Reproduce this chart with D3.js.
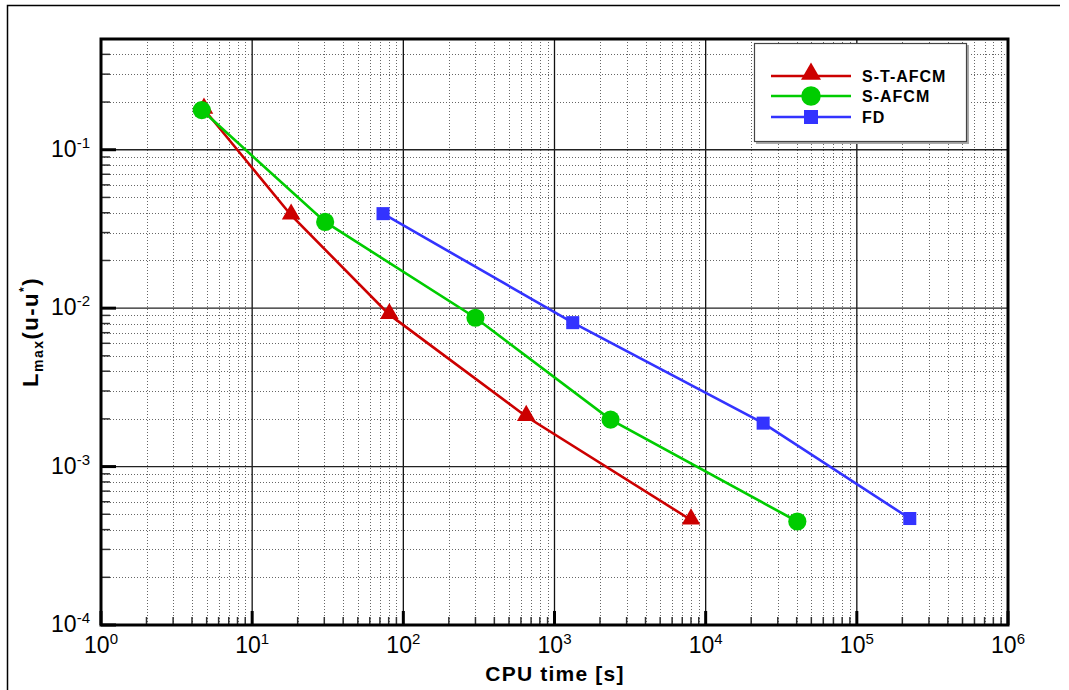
<!DOCTYPE html>
<html>
<head>
<meta charset="utf-8">
<script src="https://cdn.jsdelivr.net/npm/d3@7"></script>
<style>
  body { margin: 0; background: #fff; }
  svg { display: block; }
</style>
</head>
<body>
<svg id="chart" width="1069" height="690"></svg>
<script>
// series: CPU time [s] vs L_max error
const seriesNames = ['S-T-AFCM', 'S-AFCM', 'FD'];
const timeST = [4.8, 18.1, 80.8, 650, 8000];
const errST = [0.18, 0.0386, 0.0091, 0.00207, 0.00046];
const timeS = [4.64, 30.4, 300, 2350, 40400];
const errS = [0.178, 0.035, 0.0087, 0.00198, 0.00045];
const timeFD = [73.4, 1320, 24000, 224000];
const errFD = [0.0395, 0.0081, 0.00188, 0.00047];
const xDecades = [0, 1, 2, 3, 4, 5, 6];
const yDecades = [-4, -3, -2, -1];

const colors = ['#cc0000', '#00cc00', '#3333ff'];
const shapes = [d3.symbolTriangle, d3.symbolCircle, d3.symbolSquare];
const symSizes = [150, 260, 170];

const svg = d3.select('#chart');
const pLeft = 101, pRight = 1008, pTop = 39, pBottom = 625;

const x = d3.scaleLog().domain([1, 1e6]).range([pLeft, pRight]);
const y = d3.scaleLog().domain([1e-4, 0.5]).range([pBottom, pTop]);

// outer frame (only left and top edges visible)
svg.append('path')
  .attr('d', 'M7.5,690 V5.5 H1060')
  .attr('fill', 'none')
  .attr('stroke', '#000')
  .attr('stroke-width', 1.5);

const isMajor = v => Math.abs(Math.log10(v) - Math.round(Math.log10(v))) < 1e-9;

const xt = x.ticks();
const yt = y.ticks().filter(v => v <= 0.5);

const grid = svg.append('g');
// minor grid (dotted)
grid.selectAll('.vmin')
  .data(xt.filter(v => !isMajor(v)))
  .enter().append('line')
  .attr('x1', d => Math.round(x(d)) + 0.5).attr('x2', d => Math.round(x(d)) + 0.5)
  .attr('y1', pTop).attr('y2', pBottom)
  .attr('stroke', '#666').attr('stroke-width', 1).attr('stroke-dasharray', '1,2');
grid.selectAll('.hmin')
  .data(yt.filter(v => !isMajor(v)))
  .enter().append('line')
  .attr('y1', d => Math.round(y(d)) + 0.5).attr('y2', d => Math.round(y(d)) + 0.5)
  .attr('x1', pLeft).attr('x2', pRight)
  .attr('stroke', '#666').attr('stroke-width', 1).attr('stroke-dasharray', '1,2');
// major grid (solid)
grid.selectAll('.vmaj')
  .data(xDecades.slice(1, -1))
  .enter().append('line')
  .attr('x1', d => x(10 ** d)).attr('x2', d => x(10 ** d))
  .attr('y1', pTop).attr('y2', pBottom)
  .attr('stroke', '#111').attr('stroke-width', 1.3);
grid.selectAll('.hmaj')
  .data(yDecades.slice(1))
  .enter().append('line')
  .attr('y1', d => y(10 ** d)).attr('y2', d => y(10 ** d))
  .attr('x1', pLeft).attr('x2', pRight)
  .attr('stroke', '#222').attr('stroke-width', 1.3);

// inward ticks on bottom and left axes
const ticks = svg.append('g');
ticks.selectAll('.xt')
  .data(xt)
  .enter().append('line')
  .attr('x1', d => x(d)).attr('x2', d => x(d))
  .attr('y1', pBottom).attr('y2', d => pBottom - (isMajor(d) ? 14 : 8))
  .attr('stroke', d => isMajor(d) ? '#000' : '#333')
  .attr('stroke-width', d => isMajor(d) ? 3 : 1.5);
ticks.selectAll('.yt')
  .data(yt)
  .enter().append('line')
  .attr('y1', d => y(d)).attr('y2', d => y(d))
  .attr('x1', pLeft).attr('x2', d => pLeft + (isMajor(d) ? 15 : 9))
  .attr('stroke', d => isMajor(d) ? '#000' : '#333')
  .attr('stroke-width', d => isMajor(d) ? 3 : 1.5);

// series
const seriesX = [timeST, timeS, timeFD];
const seriesY = [errST, errS, errFD];
const line = d3.line().x(d => x(d[0])).y(d => y(d[1]));

seriesNames.forEach((name, i) => {
  const pts = d3.zip(seriesX[i], seriesY[i]);
  const g = svg.append('g');
  g.append('path')
    .datum(pts)
    .attr('d', line)
    .attr('fill', 'none')
    .attr('stroke', colors[i])
    .attr('stroke-width', 2.6);
  g.selectAll('path.m')
    .data(pts)
    .enter().append('path')
    .attr('class', 'm')
    .attr('transform', d => `translate(${x(d[0])},${y(d[1]) + (i === 0 ? -1 : 0)})`)
    .attr('d', d3.symbol().type(shapes[i]).size(symSizes[i]))
    .attr('fill', colors[i]);
});

// plot frame
svg.append('rect')
  .attr('x', pLeft).attr('y', pTop)
  .attr('width', pRight - pLeft).attr('height', pBottom - pTop)
  .attr('fill', 'none')
  .attr('stroke', '#000')
  .attr('stroke-width', 3);

// tick labels
const tickFont = '"Liberation Sans Narrow", "Arial Narrow", "Liberation Sans", Arial, sans-serif';
const xl = svg.append('g')
  .attr('font-family', tickFont).attr('font-size', 23).attr('fill', '#000');
xDecades.forEach(p => {
  const t = xl.append('text')
    .attr('x', x(10 ** p)).attr('y', 653)
    .attr('text-anchor', 'middle');
  t.append('tspan').text('10');
  t.append('tspan').attr('font-size', 15).attr('dy', -9).text(p);
});
const yl = svg.append('g')
  .attr('font-family', tickFont).attr('font-size', 23).attr('fill', '#000');
yDecades.forEach(p => {
  const t = yl.append('text')
    .attr('x', 90).attr('y', y(10 ** p) + 7)
    .attr('text-anchor', 'end');
  t.append('tspan').text('10');
  t.append('tspan').attr('font-size', 15).attr('dy', -9).text(p);
});

// axis titles
svg.append('text')
  .attr('x', 555).attr('y', 681)
  .attr('text-anchor', 'middle')
  .attr('font-family', 'Arial, "Liberation Sans", sans-serif')
  .attr('font-weight', 'bold')
  .attr('font-size', 21)
  .attr('letter-spacing', 1.2)
  .text('CPU time [s]');

const yTitle = svg.append('text')
  .attr('transform', `translate(38,${(pTop + pBottom) / 2}) rotate(-90)`)
  .attr('text-anchor', 'middle')
  .attr('font-family', 'Arial, "Liberation Sans", sans-serif')
  .attr('font-weight', 'bold')
  .attr('font-size', 22)
  .attr('letter-spacing', 1.5);
yTitle.append('tspan').text('L');
yTitle.append('tspan').attr('font-size', 14).attr('dy', 5).text('max');
yTitle.append('tspan').attr('dy', -5).text('(u-u');
yTitle.append('tspan').attr('font-size', 12).attr('dy', -10).text('*');
yTitle.append('tspan').attr('dy', 10).text(')');

// legend
const lg = svg.append('g');
lg.append('rect')
  .attr('x', 756).attr('y', 45).attr('width', 213).attr('height', 99)
  .attr('fill', '#aaa');
lg.append('rect')
  .attr('x', 754.5).attr('y', 43.5).attr('width', 212).attr('height', 98)
  .attr('fill', '#fff').attr('stroke', '#444').attr('stroke-width', 1.2);
const rowY = [76, 96, 117];
seriesNames.forEach((name, i) => {
  lg.append('line')
    .attr('x1', 771).attr('x2', 851)
    .attr('y1', rowY[i]).attr('y2', rowY[i])
    .attr('stroke', colors[i]).attr('stroke-width', 2.6);
  lg.append('path')
    .attr('transform', `translate(811,${rowY[i] + (i === 0 ? -2 : 0)})`)
    .attr('d', d3.symbol().type(shapes[i]).size(symSizes[i] * 1.15))
    .attr('fill', colors[i]);
  lg.append('text')
    .attr('x', 862).attr('y', rowY[i] + 6)
    .attr('font-family', 'Arial, "Liberation Sans", sans-serif')
    .attr('font-weight', 'bold')
    .attr('font-size', 16)
    .attr('letter-spacing', 1)
    .attr('fill', '#000')
    .text(name);
});
</script>
</body>
</html>
